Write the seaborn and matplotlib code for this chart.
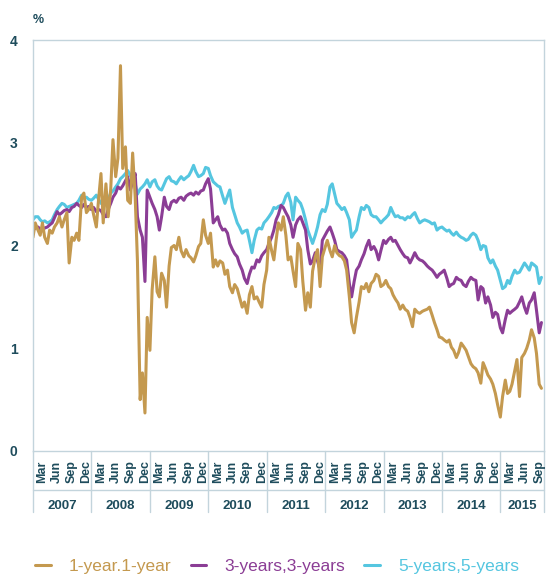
#!/usr/bin/env python3
"""forward rates 2007-2015 - line chart"""

import matplotlib.dates as mdates
import matplotlib.pyplot as plt
import pandas as pd
import seaborn as sns

from matplotlib import font_manager
from matplotlib.lines import Line2D
from matplotlib.ticker import NullFormatter

# half-monthly readings (1st and 15th of each month), Jan 2007 - Sep 2015
dates = pd.date_range("2007-01-01", periods=210, freq="SMS")

one_year = [
    2.08, 2.22, 2.15, 2.10, 2.22, 2.08, 2.02, 2.15, 2.12, 2.18, 2.22, 2.28, 2.18, 2.25, 2.32, 1.83, 2.08, 2.05, 2.12, 2.05, 2.47, 2.51, 2.32, 2.35,
    2.41, 2.30, 2.18, 2.45, 2.70, 2.22, 2.60, 2.28, 2.55, 3.03, 2.67, 2.85, 3.75, 2.75, 2.96, 2.44, 2.41, 2.90, 2.47, 1.85, 0.50, 0.76, 0.37, 1.30,
    0.98, 1.57, 1.89, 1.55, 1.50, 1.73, 1.66, 1.40, 1.80, 1.98, 2.00, 1.96, 2.08, 1.95, 1.89, 1.96, 1.90, 1.88, 1.84, 1.90, 1.99, 2.02, 2.25, 2.10,
    2.02, 2.12, 1.79, 1.86, 1.80, 1.85, 1.83, 1.72, 1.76, 1.60, 1.54, 1.62, 1.58, 1.50, 1.40, 1.45, 1.34, 1.52, 1.60, 1.48, 1.50, 1.45, 1.40, 1.62,
    1.76, 2.08, 1.95, 1.86, 2.05, 2.22, 2.15, 2.28, 2.10, 1.86, 1.89, 1.75, 1.60, 2.02, 1.96, 1.65, 1.37, 1.54, 1.40, 1.75, 1.89, 1.96, 1.60, 1.89,
    1.98, 2.05, 1.95, 1.89, 2.00, 1.93, 1.90, 1.89, 1.85, 1.76, 1.50, 1.25, 1.15, 1.30, 1.45, 1.60, 1.58, 1.63, 1.55, 1.63, 1.66, 1.72, 1.70, 1.60,
    1.62, 1.66, 1.60, 1.58, 1.52, 1.48, 1.44, 1.38, 1.42, 1.38, 1.36, 1.30, 1.21, 1.38, 1.35, 1.34, 1.36, 1.37, 1.38, 1.40, 1.32, 1.25, 1.18, 1.11,
    1.10, 1.08, 1.06, 1.08, 1.01, 0.98, 0.91, 0.96, 1.05, 1.02, 0.98, 0.92, 0.85, 0.82, 0.80, 0.76, 0.66, 0.86, 0.80, 0.74, 0.70, 0.65, 0.56, 0.45,
    0.33, 0.53, 0.69, 0.56, 0.58, 0.65, 0.78, 0.89, 0.53, 0.91, 0.95, 1.00, 1.08, 1.18, 1.10, 0.95, 0.65, 0.61,
]

three_years = [
    2.15, 2.17, 2.18, 2.16, 2.15, 2.17, 2.18, 2.20, 2.22, 2.27, 2.33, 2.30, 2.32, 2.34, 2.35, 2.33, 2.37, 2.38, 2.41, 2.39, 2.37, 2.40, 2.37, 2.38,
    2.35, 2.37, 2.33, 2.35, 2.34, 2.30, 2.28, 2.35, 2.41, 2.47, 2.51, 2.57, 2.55, 2.58, 2.63, 2.67, 2.54, 2.62, 2.70, 2.28, 2.15, 2.08, 1.65, 2.54,
    2.47, 2.41, 2.35, 2.28, 2.15, 2.28, 2.47, 2.38, 2.35, 2.42, 2.44, 2.42, 2.46, 2.47, 2.44, 2.48, 2.50, 2.51, 2.49, 2.52, 2.50, 2.53, 2.54, 2.60,
    2.65, 2.55, 2.22, 2.25, 2.28, 2.20, 2.15, 2.16, 2.12, 2.02, 1.96, 1.92, 1.89, 1.82, 1.76, 1.68, 1.63, 1.72, 1.79, 1.78, 1.86, 1.84, 1.90, 1.93,
    1.96, 2.02, 2.08, 2.15, 2.25, 2.30, 2.39, 2.37, 2.32, 2.28, 2.20, 2.08, 2.20, 2.25, 2.28, 2.22, 2.15, 1.96, 1.82, 1.85, 1.93, 1.85, 1.76, 2.05,
    2.10, 2.14, 2.18, 2.12, 2.05, 1.96, 1.94, 1.93, 1.90, 1.86, 1.63, 1.50, 1.65, 1.76, 1.80, 1.86, 1.92, 1.99, 2.05, 1.96, 1.99, 1.95, 1.86, 1.95,
    2.05, 2.02, 2.06, 2.08, 2.04, 2.05, 2.00, 1.96, 1.92, 1.89, 1.88, 1.83, 1.88, 1.93, 1.88, 1.86, 1.85, 1.83, 1.80, 1.78, 1.76, 1.73, 1.69, 1.72,
    1.74, 1.76, 1.68, 1.60, 1.62, 1.63, 1.69, 1.67, 1.66, 1.62, 1.60, 1.65, 1.69, 1.67, 1.66, 1.47, 1.60, 1.58, 1.44, 1.50, 1.42, 1.30, 1.35, 1.33,
    1.20, 1.15, 1.28, 1.37, 1.34, 1.36, 1.38, 1.40, 1.45, 1.50, 1.40, 1.34, 1.44, 1.47, 1.54, 1.37, 1.15, 1.25,
]

five_years = [
    2.25, 2.28, 2.28, 2.25, 2.23, 2.24, 2.22, 2.23, 2.25, 2.30, 2.35, 2.38, 2.41, 2.40, 2.37, 2.38, 2.39, 2.40, 2.41, 2.44, 2.49, 2.46, 2.47, 2.45,
    2.44, 2.46, 2.49, 2.45, 2.41, 2.43, 2.41, 2.45, 2.51, 2.53, 2.57, 2.60, 2.65, 2.67, 2.70, 2.73, 2.68, 2.65, 2.60, 2.50, 2.55, 2.57, 2.60, 2.64,
    2.57, 2.62, 2.64, 2.58, 2.55, 2.54, 2.60, 2.65, 2.67, 2.63, 2.62, 2.60, 2.64, 2.67, 2.64, 2.66, 2.68, 2.72, 2.78, 2.72, 2.67, 2.68, 2.70, 2.76,
    2.75, 2.68, 2.62, 2.60, 2.58, 2.57, 2.48, 2.41, 2.48, 2.54, 2.37, 2.30, 2.22, 2.18, 2.12, 2.14, 2.15, 2.05, 1.93, 2.05, 2.15, 2.17, 2.16, 2.22,
    2.25, 2.28, 2.32, 2.37, 2.36, 2.38, 2.39, 2.41, 2.48, 2.51, 2.42, 2.25, 2.47, 2.44, 2.41, 2.35, 2.25, 2.15, 2.08, 2.02, 2.10, 2.18, 2.30, 2.35,
    2.33, 2.40, 2.57, 2.60, 2.50, 2.41, 2.38, 2.35, 2.37, 2.32, 2.25, 2.08, 2.12, 2.15, 2.28, 2.37, 2.35, 2.39, 2.37, 2.30, 2.28, 2.28, 2.25, 2.22,
    2.25, 2.27, 2.30, 2.37, 2.32, 2.28, 2.29, 2.27, 2.27, 2.25, 2.28, 2.27, 2.30, 2.32, 2.26, 2.22, 2.24, 2.25, 2.24, 2.23, 2.21, 2.22, 2.15, 2.17,
    2.18, 2.16, 2.14, 2.15, 2.12, 2.10, 2.13, 2.10, 2.08, 2.07, 2.05, 2.06, 2.10, 2.12, 2.10, 2.05, 1.96, 2.00, 1.99, 1.88, 1.83, 1.86, 1.80, 1.76,
    1.66, 1.58, 1.60, 1.66, 1.63, 1.70, 1.76, 1.73, 1.74, 1.78, 1.83, 1.80, 1.76, 1.83, 1.81, 1.79, 1.63, 1.69,
]

series = ["1-year.1-year", "3-years,3-years", "5-years,5-years"]
colors = ["#c4994f", "#8b3d95", "#55c6e0"]
years = [2007, 2008, 2009, 2010, 2011, 2012, 2013, 2014, 2015]
month_labels = {3: "Mar", 6: "Jun", 9: "Sep", 12: "Dec"}
y_ticks = [0, 1, 2, 3, 4]

DARK = "#1e4c5c"
LIGHT = "#c3d4dc"
START = pd.Timestamp("2007-01-01")
END = pd.Timestamp("2015-10-01")


def has_font(name):
    try:
        font_manager.findfont(name, fallback_to_default=False)
        return True
    except ValueError:
        return False


# the original uses a condensed bold face for axis text
if has_font("Liberation Sans Narrow"):
    AXIS_FONT, AXIS_SIZE = "Liberation Sans Narrow", 10
else:
    AXIS_FONT, AXIS_SIZE = "Liberation Sans", 9

sns.set_style("white")
plt.rcParams["font.family"] = [AXIS_FONT, "DejaVu Sans"]

df = pd.DataFrame({"date": dates, series[0]: one_year, series[1]: three_years, series[2]: five_years})
df = df.melt(id_vars="date", var_name="series", value_name="value")

fig = plt.figure(figsize=(5.51, 5.74), dpi=100)
ax = fig.add_axes([33 / 551, 123 / 574, 511 / 551, 411 / 574])

# draw 5y first so the short rate ends up on top
for name, col in reversed(list(zip(series, colors))):
    sns.lineplot(data=df[df["series"] == name], x="date", y="value", color=col,
                 linewidth=2.2, ax=ax, legend=False)

ax.set_xlim(START, END)
ax.set_ylim(0, 4)
ax.set_xlabel("")
ax.set_ylabel("")

for side in ["left", "right", "top", "bottom"]:
    ax.spines[side].set_visible(True)
    ax.spines[side].set_color(LIGHT)
    ax.spines[side].set_linewidth(1.0)

ax.set_yticks(y_ticks)
ax.set_yticklabels([str(t) for t in y_ticks])
ax.tick_params(axis="y", length=5, width=1, color=LIGHT, labelcolor=DARK, labelsize=AXIS_SIZE + 1, pad=6)
for lbl in ax.get_yticklabels():
    lbl.set_fontweight("bold")

ax.xaxis.set_major_locator(mdates.MonthLocator())
ax.xaxis.set_major_formatter(NullFormatter())
ax.tick_params(axis="x", length=4, width=1, color=LIGHT)

# month labels, separators and year labels under the axis
xt = ax.get_xaxis_transform()
for yr in years:
    for m, name in month_labels.items():
        d = pd.Timestamp(yr, m, 1)
        if d < END:
            ax.text(mdates.date2num(d), -0.078, name, transform=xt, rotation=90,
                    ha="center", va="bottom", color=DARK, fontsize=AXIS_SIZE, fontweight="bold")
    y0 = pd.Timestamp(yr, 1, 1)
    y1 = min(pd.Timestamp(yr + 1, 1, 1), END)
    mid = (mdates.date2num(y0) + mdates.date2num(y1)) / 2
    ax.text(mid, -0.134, str(yr), transform=xt, ha="center", va="center",
            color=DARK, fontsize=AXIS_SIZE + 0.5, fontweight="bold")
    ax.plot([mdates.date2num(y0)] * 2, [0, -0.148], transform=xt, clip_on=False,
            color=LIGHT, lw=1)

ax.plot([1, 1], [0, -0.148], transform=ax.transAxes, clip_on=False, color=LIGHT, lw=1)
ax.plot([0, 1], [-0.095, -0.095], transform=ax.transAxes, clip_on=False, color=LIGHT, lw=1)

fig.text(33 / 551, 1 - 20 / 574, "%", ha="left", va="center", color=DARK,
         fontsize=AXIS_SIZE, fontweight="bold")

handles = [Line2D([0], [0], color=c, lw=2.2) for c in colors]
leg = fig.legend(handles, series, loc="center left", bbox_to_anchor=(35 / 551, 1 - 566 / 574),
                 ncol=3, frameon=False, borderpad=0, borderaxespad=0, handlelength=0.9,
                 handletextpad=1.05, columnspacing=1.1,
                 prop={"family": ["Liberation Sans", "DejaVu Sans"], "size": 12.5})
for txt, c in zip(leg.get_texts(), colors):
    txt.set_color(c)

fig.savefig("out.png", dpi=100)
